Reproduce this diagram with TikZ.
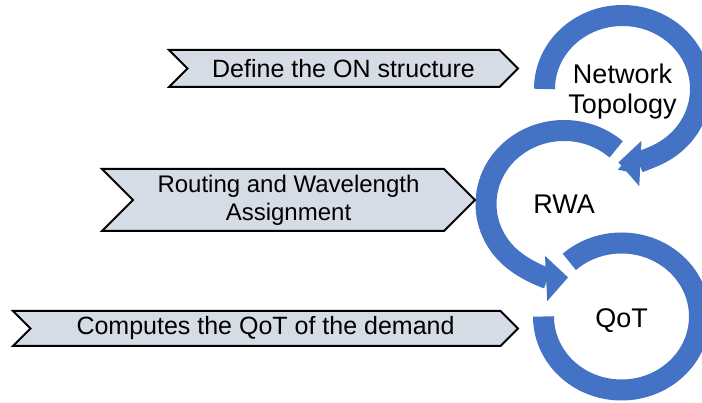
\documentclass[tikz,border=0pt]{standalone}
\usepackage{fontspec}
\setmainfont{Liberation Sans}
\usetikzlibrary{arrows.meta,shapes.symbols}

\definecolor{ringblue}{HTML}{4472C4}
\definecolor{tagfill}{HTML}{D6DCE5}

\begin{document}
\begin{tikzpicture}[x=1pt, y=1pt,
        ring/.style={line width=21pt, draw=ringblue},
        tag/.style={signal, signal to=east, signal from=west, draw=black, line width=2pt,
            fill=tagfill, inner sep=0pt, align=center, font=\fontsize{25}{28}\selectfont},
        ringtext/.style={align=center, font=\fontsize{27}{30}\selectfont}]
            \useasboundingbox (0,0) rectangle (702,403);

            % 圆环中心
            \coordinate (ntc) at (622.5,314);
            \coordinate (rwac) at (564,199);
            \coordinate (qotc) at (621.5,86.5);

            % 绘制三个圆环箭头
            \draw[ring, -{Triangle[width=44pt, length=22pt]}]
            ([shift={(180:78 and 73.5)}]ntc) arc[start angle=180, end angle=-93, x radius=78, y radius=73.5];
            \draw[ring, -{Triangle[width=44pt, length=22pt]}]
            ([shift={(48:78 and 73.5)}]rwac) arc[start angle=48, end angle=273, x radius=78, y radius=73.5];
            \draw[ring]
            ([shift={(132:78 and 73.5)}]qotc) arc[start angle=132, end angle=-180, x radius=78, y radius=73.5];

            % 圆环里的文字
            \node[ringtext] (nt) at ([yshift=-3]ntc) {Network\\Topology};
            \node[ringtext] (rwa) at (rwac) {RWA};
            \node[ringtext] (qot) at ([yshift=-4]qotc) {QoT};

            % 左边的说明
            \node[tag, minimum width=349pt, minimum height=37pt] (define) at (343.5,334.5) {Define the ON structure};
            \node[tag, minimum width=373pt, minimum height=62pt, font=\fontsize{24}{28}\selectfont] (routing) at (288.5,203) {Routing and Wavelength\\Assignment};
            \node[tag, minimum width=505pt, minimum height=35pt] (computes) at (265.5,74.5) {Computes the QoT of the demand};

        \end{tikzpicture}
\end{document}
